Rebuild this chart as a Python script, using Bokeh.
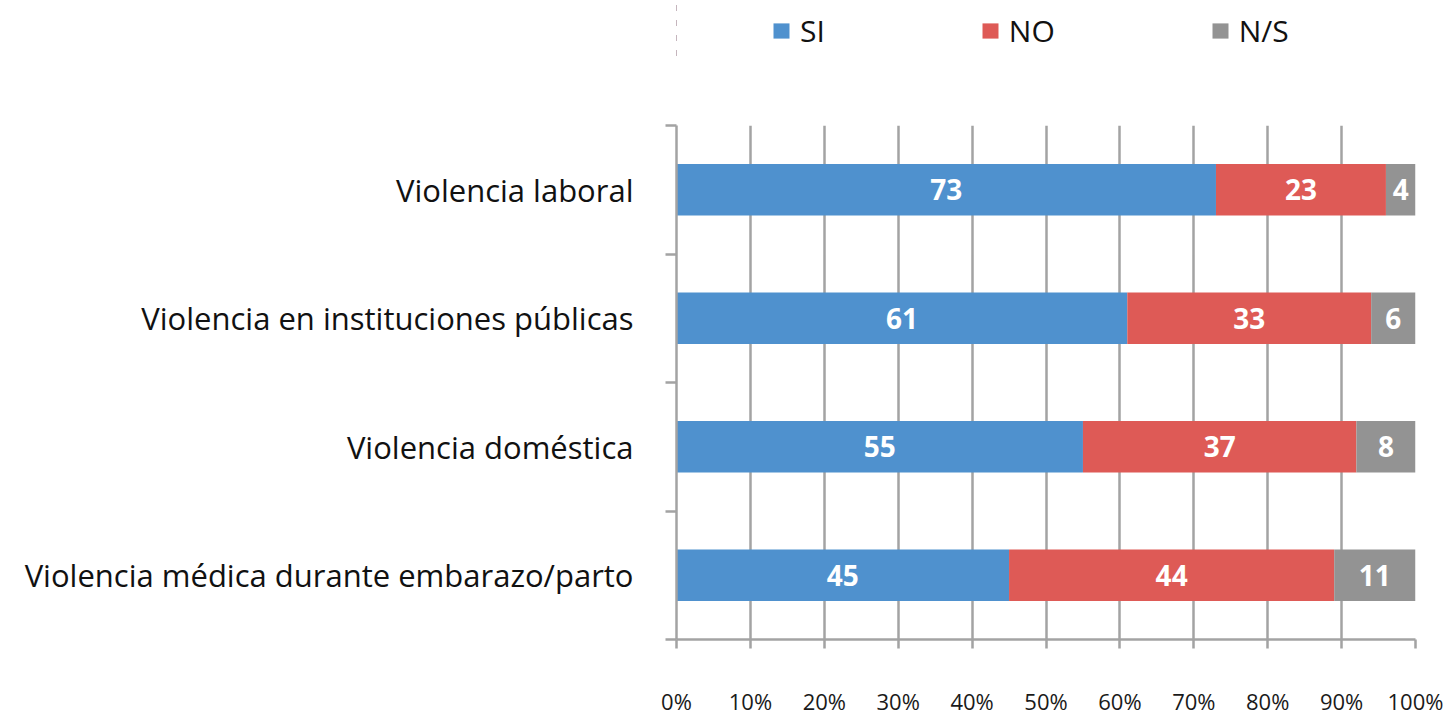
from bokeh.plotting import figure
from bokeh.layouts import column
from bokeh.models import (ColumnDataSource, FactorRange, Range1d, LinearAxis, CategoricalAxis,
                          FixedTicker, PrintfTickFormatter, Legend, LegendItem)
from bokeh.core.properties import value
from bokeh.embed import file_html
from bokeh.resources import INLINE

# ---- data ----
categories = ["Violencia laboral", "Violencia en instituciones públicas",
              "Violencia doméstica", "Violencia médica durante embarazo/parto"]
si = [73, 61, 55, 45]
no = [23, 33, 37, 44]
ns = [4, 6, 8, 11]
series_names = ["SI", "NO", "N/S"]
series_keys = ["si", "no", "ns"]
colors = ["#4F91CE", "#DE5A56", "#939393"]
x_ticks = [0, 10, 20, 30, 40, 50, 60, 70, 80, 90, 100]

FONT = "Open Sans"
GRID = "#A3A3A3"
W, H_LEG, H_MAIN = 1449, 60, 658

cats_top_down = list(reversed(categories))
src = ColumnDataSource(dict(cat=categories, si=si, no=no, ns=ns))

# ---------------- main chart ----------------
p = figure(width=W, height=H_MAIN, output_backend="svg", toolbar_location=None,
           x_range=Range1d(0, 100), y_range=FactorRange(*cats_top_down),
           y_axis_location=None, x_axis_location=None,
           min_border_left=676, min_border_right=34, min_border_top=65, min_border_bottom=66)
p.outline_line_color = None
p.background_fill_color = "white"
p.border_fill_color = "white"

renderers = p.hbar_stack(series_keys, y="cat", height=0.4, color=colors, source=src, line_color=None)

# value labels in the middle of each segment
lx, ly, lt = [], [], []
for i, c in enumerate(categories):
    acc = 0
    for arr in (si, no, ns):
        v = arr[i]
        lx.append(acc + v / 2)
        ly.append(c)
        lt.append(str(v))
        acc += v
p.text(x=lx, y=ly, text=lt, text_align="center", text_baseline="middle",
       text_color="white", text_font=value(FONT), text_font_size="28px", text_font_style="bold")

xaxis = LinearAxis(ticker=FixedTicker(ticks=x_ticks), formatter=PrintfTickFormatter(format="%d%%"))
xaxis.axis_line_color = GRID
xaxis.axis_line_width = 2.5
xaxis.major_tick_line_color = GRID
xaxis.major_tick_line_width = 2.5
xaxis.major_tick_out = 9
xaxis.major_tick_in = 0
xaxis.minor_tick_line_color = None
xaxis.major_label_standoff = 37
xaxis.major_label_text_font = FONT
xaxis.major_label_text_font_size = "22px"
xaxis.major_label_text_color = "#1a1a1a"
p.add_layout(xaxis, "below")

p.xgrid.ticker = FixedTicker(ticks=x_ticks)
p.xgrid.grid_line_color = GRID
p.xgrid.grid_line_width = 2.5
p.ygrid.grid_line_color = None

# ticks on the category boundaries (synthetic coordinates 0..n)
bticks = list(range(len(categories) + 1))
baxis = LinearAxis(ticker=FixedTicker(ticks=bticks),
                   major_label_overrides={i: "" for i in bticks})
baxis.axis_line_color = GRID
baxis.axis_line_width = 2.5
baxis.major_tick_line_color = GRID
baxis.major_tick_line_width = 2.5
baxis.major_tick_out = 11
baxis.major_tick_in = 0
baxis.minor_tick_line_color = None
baxis.major_label_standoff = 0
baxis.major_label_text_font_size = "1px"
p.add_layout(baxis, "left")

caxis = CategoricalAxis()
caxis.axis_line_color = None
caxis.major_tick_line_color = None
caxis.major_tick_out = 0
caxis.major_tick_in = 0
caxis.major_label_standoff = 32
caxis.major_label_text_font = FONT
caxis.major_label_text_font_size = "31px"
caxis.major_label_text_color = "#111111"
p.add_layout(caxis, "left")

# ---------------- legend strip ----------------
# proxy renderers for the legend (same data; their bars lie outside this strip's x range)
pl = figure(width=W, height=H_LEG, output_backend="svg", toolbar_location=None,
            x_range=Range1d(1000, 1100), y_range=FactorRange(*cats_top_down),
            x_axis_location=None, y_axis_location=None,
            min_border_left=676, min_border_top=0, min_border_right=34, min_border_bottom=0)
pl.outline_line_color = None
pl.grid.grid_line_color = None
leg_r = pl.hbar_stack(series_keys, y="cat", height=0.4, color=colors, source=src, line_color=None)

legend = Legend(items=[LegendItem(label=n, renderers=[r]) for n, r in zip(series_names, leg_r)],
                orientation="horizontal", location=(95, 9))
legend.border_line_color = None
legend.background_fill_alpha = 0
legend.padding = 0
legend.margin = 0
legend.spacing = 155
legend.glyph_width = 20
legend.glyph_height = 19
legend.label_standoff = 9
legend.label_text_font = FONT
legend.label_text_font_size = "30px"
legend.label_text_color = "#111111"
pl.add_layout(legend, "center")

layout = column(pl, p, spacing=0)
open("out.html", "w").write(file_html(layout, INLINE))
